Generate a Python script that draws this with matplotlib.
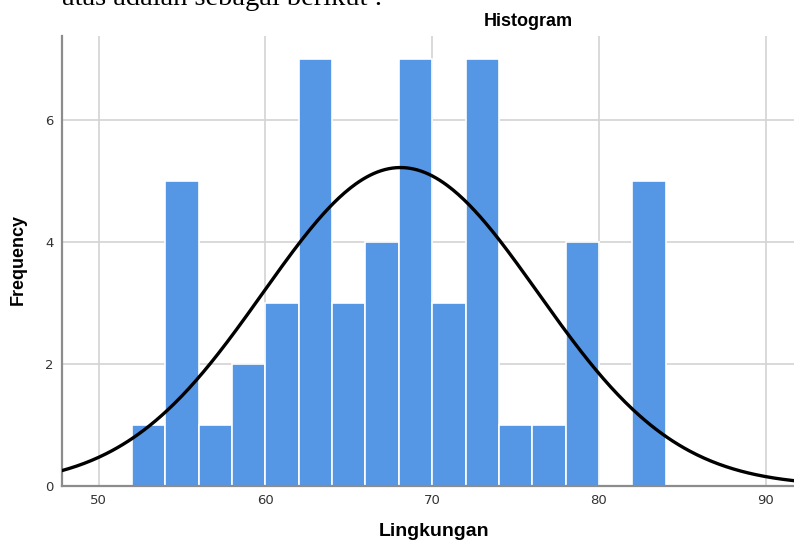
import numpy as np
import matplotlib
matplotlib.use("Agg")
import matplotlib.pyplot as plt

# Histogram of "Lingkungan" scores: bin edges (width 2) and counts per bin
bin_edges = [52, 54, 56, 58, 60, 62, 64, 66, 68, 70, 72, 74, 76, 78, 80, 82, 84]
counts = [1, 5, 1, 2, 3, 7, 3, 4, 7, 3, 7, 1, 1, 4, 0, 5]

# Fitted normal curve parameters
curve_mean = 68.1
curve_std = 8.25
n_obs = sum(counts)
bin_width = 2

x_ticks = [50, 60, 70, 80, 90]
y_ticks = [0, 2, 4, 6]

W, H = 794, 542
fig = plt.figure(figsize=(W / 100, H / 100), dpi=100)

ax_left, ax_right, ax_top, ax_bottom = 62, 794, 36, 486
ax = fig.add_axes([ax_left / W, 1 - ax_bottom / H,
                   (ax_right - ax_left) / W, (ax_bottom - ax_top) / H])

bar_color = "#5596e5"
grid_color = "#d3d3d3"
spine_color = "#8c8c8c"

ax.set_axisbelow(True)
ax.grid(True, color=grid_color, linewidth=1.2)

lefts = bin_edges[:-1]
ax.bar(lefts, counts, width=bin_width, align="edge", color=bar_color,
       edgecolor="white", linewidth=1.2, zorder=2)

xs = np.linspace(47.8, 91.7, 400)
ys = n_obs * bin_width / (curve_std * np.sqrt(2 * np.pi)) * \
    np.exp(-0.5 * ((xs - curve_mean) / curve_std) ** 2)
ax.plot(xs, ys, color="black", linewidth=2.4, zorder=3)

ax.set_xlim(47.8, 91.7)
ax.set_ylim(0, 7.38)
ax.set_xticks(x_ticks)
ax.set_yticks(y_ticks)
ax.tick_params(length=0, labelsize=9.5, labelcolor="#333333")
ax.tick_params(axis="x", pad=6)
ax.tick_params(axis="y", pad=6)

for side in ("top", "right"):
    ax.spines[side].set_visible(False)
for side in ("left", "bottom"):
    ax.spines[side].set_color(spine_color)
    ax.spines[side].set_linewidth(1.6)

fig.text(528 / W, 1 - 21 / H, "Histogram", ha="center", va="center",
         fontsize=13, fontweight="bold", family="Liberation Sans")
fig.text(434 / W, 1 - 531 / H, "Lingkungan", ha="center", va="center",
         fontsize=14, fontweight="bold", family="Liberation Sans")
fig.text(18 / W, 1 - 260 / H, "Frequency", ha="center", va="center",
         rotation=90, fontsize=13, fontweight="bold", family="Liberation Sans")

# Paragraph line above the chart
fig.text(62 / W, 1 - 5 / H, "atas adalah sebagai berikut :", ha="left",
         va="baseline", fontsize=20.5, family="Liberation Serif", color="black")

fig.savefig("out.png", dpi=100)
